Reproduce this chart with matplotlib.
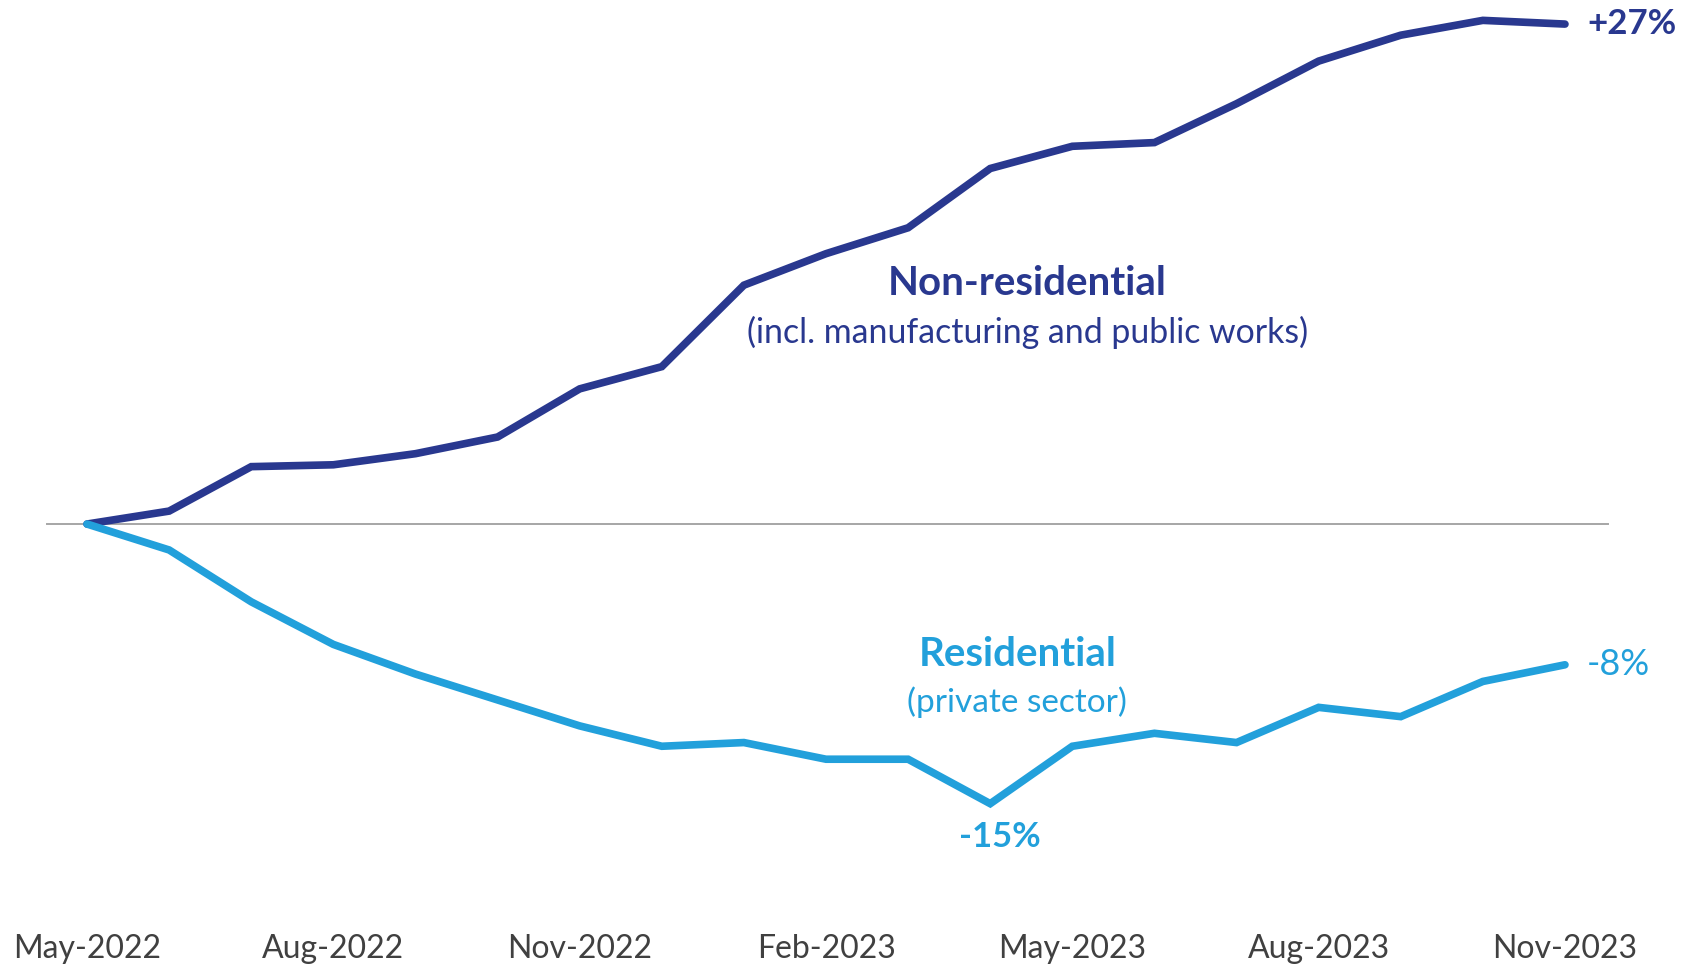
import matplotlib
matplotlib.use("Agg")
from matplotlib import pyplot as plt

# %%
# Data: cumulative change since May-2022, in %

months = [
    "May-2022", "Jun-2022", "Jul-2022", "Aug-2022", "Sep-2022", "Oct-2022",
    "Nov-2022", "Dec-2022", "Jan-2023", "Feb-2023", "Mar-2023", "Apr-2023",
    "May-2023", "Jun-2023", "Jul-2023", "Aug-2023", "Sep-2023", "Oct-2023",
    "Nov-2023",
]
non_residential = [
    0.0, 0.7, 3.1, 3.2, 3.8, 4.7, 7.3, 8.5, 12.9, 14.6,
    16.0, 19.2, 20.4, 20.6, 22.7, 25.0, 26.4, 27.2, 27.0,
]
residential = [
    0.0, -1.4, -4.2, -6.5, -8.1, -9.5, -10.9, -12.0, -11.8, -12.7,
    -12.7, -15.1, -12.0, -11.3, -11.8, -9.9, -10.4, -8.5, -7.6,
]
tick_every = 3

navy = "#29388F"
light_blue = "#22A0DB"

plt.rcParams["font.family"] = ["Lato", "DejaVu Sans"]

fig = plt.figure(figsize=(16.86, 9.64), dpi=100)
ax = fig.add_axes([0, 0.0722, 1, 0.9278])

x = list(range(len(months)))
ax.plot(x, non_residential, color=navy, lw=5.5, solid_capstyle="round",
        solid_joinstyle="miter", zorder=3)
ax.plot(x, residential, color=light_blue, lw=5.5, solid_capstyle="round",
        solid_joinstyle="miter", zorder=3)
ax.axhline(0, xmin=0.0279, xmax=0.9537, color="#A6A6A6", lw=1.4, zorder=1)

ax.set_xlim(-1.06, 19.474)
ax.set_ylim(-20, 28.3)

ax.set_xticks(x[::tick_every])
ax.set_xticklabels(months[::tick_every], fontsize=23, color="#404040")
ax.tick_params(axis="x", length=0, pad=39)
for lab in ax.get_xticklabels():
    lab.set_va("center")
ax.set_yticks([])
for s in ax.spines.values():
    s.set_visible(False)

# %%
# Series labels

ax.text(11.45, 13.0, "Non-residential", color=navy, fontsize=29,
        fontweight="bold", ha="center", va="center")
ax.text(11.45, 10.37, "(incl. manufacturing and public works)", color=navy,
        fontsize=24.4, ha="center", va="center")
ax.text(11.33, -7.02, "Residential", color=light_blue, fontsize=29,
        fontweight="bold", ha="center", va="center")
ax.text(11.33, -9.61, "(private sector)", color=light_blue, fontsize=24,
        ha="center", va="center")

# %%
# End / min annotations

last = len(months) - 1
ax.annotate("+27%", (last, non_residential[last]), xytext=(16, 0),
            textcoords="offset points", color=navy, fontsize=25,
            fontweight="bold", ha="left", va="center")
ax.annotate("-8%", (last, residential[last]), xytext=(16, 0),
            textcoords="offset points", color=light_blue, fontsize=26,
            ha="left", va="center")
i_min = residential.index(min(residential))
ax.annotate("-15%", (i_min, residential[i_min]), xytext=(7, -24),
            textcoords="offset points", color=light_blue, fontsize=25,
            fontweight="bold", ha="center", va="center")

fig.savefig("out.png", dpi=100)
